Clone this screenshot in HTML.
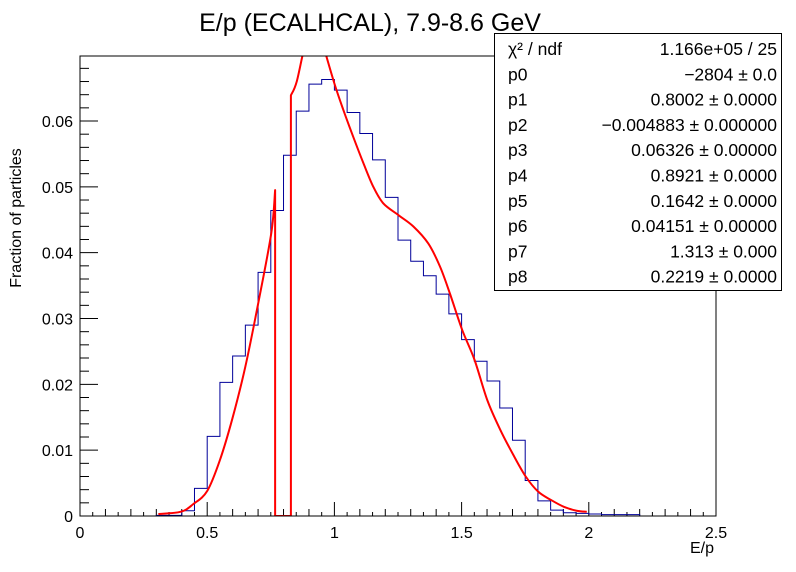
<!DOCTYPE html>
<html><head><meta charset="utf-8"><style>
html,body{margin:0;padding:0;background:#fff;}
svg{display:block;font-family:"Liberation Sans",sans-serif;}
</style></head><body>
<svg id="c" width="796" height="572" viewBox="0 0 796 572">
<defs><clipPath id="clip"><rect x="80" y="56" width="636" height="460"/></clipPath></defs>
<rect x="0" y="0" width="796" height="572" fill="#fff"/>
<text x="370" y="31" font-size="25" text-anchor="middle">E/p (ECALHCAL), 7.9-8.6 GeV</text>
<g id="axes"></g>
<g id="hist" clip-path="url(#clip)"></g>
<g id="fit" clip-path="url(#clip)"></g>
<rect x="80" y="56" width="636" height="460" fill="none" stroke="#000" stroke-width="1"/>
<text x="714" y="553" font-size="16" text-anchor="end">E/p</text>
<text transform="translate(21,218) rotate(-90)" font-size="16" text-anchor="middle">Fraction of particles</text>
<g>
<rect x="494.5" y="33.5" width="287" height="257" fill="#fff" stroke="#000" stroke-width="1"/>
<g id="stats" font-size="17.5"></g>
</g>
</svg>
<script>
const binStart = 0.30, binWidth = 0.05;
const histValues = [0.0001,0.0001,0.0008,0.0042,0.0121,0.0203,0.0243,0.0290,0.0370,0.0464,0.0548,0.0615,0.0656,0.0663,0.0647,0.0613,0.0581,0.0541,0.0484,0.0419,0.0387,0.0365,0.0337,0.0307,0.0268,0.0235,0.0205,0.0164,0.0115,0.0054,0.0023,0.0009,0.0005,0.0004,0.0003,0.0002,0.0002,0.0002];
const fitX = [0.308,0.397,0.445,0.5,0.55,0.599,0.65,0.701,0.752,0.767,0.767,0.829,0.829,0.852,0.891,0.93,0.956,1.0,1.035,1.074,1.114,1.153,1.192,1.252,1.31,1.369,1.415,1.454,1.502,1.551,1.601,1.652,1.703,1.752,1.801,1.853,1.902,1.952,1.992];
const fitY = [0.0003,0.00065,0.0018,0.0038,0.0085,0.0148,0.0227,0.0324,0.043,0.0495,0,0,0.0639,0.066,0.0725,0.075,0.0715,0.0657,0.0617,0.0576,0.0536,0.05,0.0475,0.0457,0.044,0.0414,0.0379,0.0338,0.0283,0.0237,0.0176,0.0131,0.0093,0.006,0.0037,0.0024,0.0014,0.0008,0.00065];
const xTicks = [0,0.5,1,1.5,2,2.5];
const xTickLabels = ["0","0.5","1","1.5","2","2.5"];
const yTicks = [0,0.01,0.02,0.03,0.04,0.05,0.06];
const yTickLabels = ["0","0.01","0.02","0.03","0.04","0.05","0.06"];
const statNames = ["χ² / ndf","p0","p1","p2","p3","p4","p5","p6","p7","p8"];
const statValues = ["1.166e+05 / 25","−2804 ± 0.0","0.8002 ± 0.0000","−0.004883 ± 0.000000","0.06326 ± 0.00000","0.8921 ± 0.0000","0.1642 ± 0.0000","0.04151 ± 0.00000","1.313 ± 0.000","0.2219 ± 0.0000"];

const NS="http://www.w3.org/2000/svg";
const X = v => 80 + v*254.4;
const Y = v => 516 - v*6583;
function mk(tag, attrs, parent){const e=document.createElementNS(NS,tag);for(const k in attrs)e.setAttribute(k,attrs[k]);parent.appendChild(e);return e;}
const axes=document.getElementById('axes');
for(let i=0;i<=25;i++){const v=i*0.1;const major=(i%5===0);
  const t=mk('line',{x1:X(v),x2:X(v),y1:516,y2:516-(major?14:7),stroke:'#000'},axes);
  
  }
for(let i=0;i<=50;i++){const v=i*0.05;if(i%2===0)continue;
  const t=mk('line',{x1:X(v),x2:X(v),y1:516,y2:512,stroke:'#000'},axes);
  
  }
xTicks.forEach((v,i)=>{const t=mk('text',{x:X(v),y:538,'font-size':16,'text-anchor':'middle'},axes);t.textContent=xTickLabels[i];
  
  });
for(let i=0;i<=34;i++){const v=i*0.002;const major=(i%5===0);
  const t=mk('line',{x1:80,x2:80+(major?18:9),y1:Y(v),y2:Y(v),stroke:'#000'},axes);
  
  }
yTicks.forEach((v,i)=>{const t=mk('text',{x:73,y:Y(v)+6,'font-size':16,'text-anchor':'end'},axes);t.textContent=yTickLabels[i];
  
  });
let d=`M${X(binStart)},${Y(0)}`;
histValues.forEach((v,i)=>{const x0=X(binStart+i*binWidth),x1=X(binStart+(i+1)*binWidth);d+=` L${x0},${Y(v)} L${x1},${Y(v)}`;});
d+=` L${X(binStart+histValues.length*binWidth)},${Y(0)}`;
const h=mk('path',{d:d,fill:'none',stroke:'#000099','stroke-width':1},document.getElementById('hist'));


const P=fitX.map((x,i)=>[X(x),Y(fitY[i])]);
const segs=[];let cur=[P[0]];
for(let i=1;i<P.length;i++){ if(Math.abs(P[i][0]-P[i-1][0])<0.5){segs.push(cur);cur=[P[i-1],P[i]];segs.push(cur);cur=[P[i]];} else cur.push(P[i]); }
segs.push(cur);
let fd='M'+P[0][0]+','+P[0][1];
segs.forEach(s=>{ if(s.length<2)return;
  if(Math.abs(s[0][0]-s[1][0])<0.5&&s.length===2){fd+=` L${s[1][0]},${s[1][1]}`;return;}
  for(let i=0;i<s.length-1;i++){const p0=s[Math.max(0,i-1)],p1=s[i],p2=s[i+1],p3=s[Math.min(s.length-1,i+2)];
    const c1=[p1[0]+(p2[0]-p0[0])/6,p1[1]+(p2[1]-p0[1])/6],c2=[p2[0]-(p3[0]-p1[0])/6,p2[1]-(p3[1]-p1[1])/6];
    fd+=` C${c1[0]},${c1[1]} ${c2[0]},${c2[1]} ${p2[0]},${p2[1]}`;}
});
const f=mk('path',{d:fd,fill:'none',stroke:'#ff0000','stroke-width':2,'stroke-linejoin':'round'},document.getElementById('fit'));


const st=document.getElementById('stats');
statNames.forEach((n,i)=>{const y=55+i*25.3;
  const a=mk('text',{x:508,y:y},st);a.textContent=n;
  
  
  const b=mk('text',{x:777,y:y,'text-anchor':'end'},st);b.textContent=statValues[i];
  
  });
</script>
</body></html>
